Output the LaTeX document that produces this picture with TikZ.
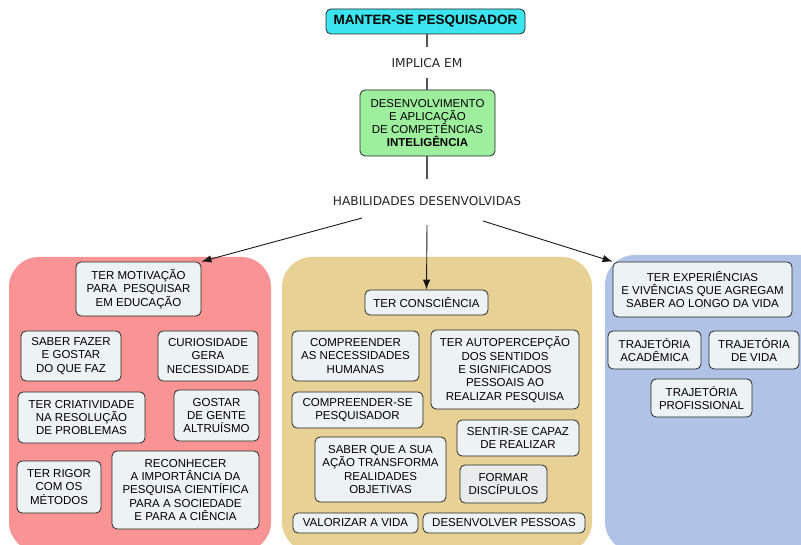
\documentclass[tikz,border=0pt]{standalone}
\usepackage{fontspec}
\setmainfont{Liberation Sans}
\newfontfamily\labelfont{DejaVu Sans}
\usetikzlibrary{arrows.meta}

\definecolor{topcyan}{HTML}{3BE4EE}
\definecolor{compgreen}{HTML}{9DEE9D}
\definecolor{panelpink}{HTML}{FA9494}
\definecolor{paneltan}{HTML}{E7D195}
\definecolor{panelblue}{HTML}{B0C3E6}
\definecolor{itemfill}{HTML}{EDF2F5}
\definecolor{itemgray}{HTML}{E9ECEC}
\definecolor{linkgray}{HTML}{555555}

\tikzset{
  itembox/.style={draw=black!85, line width=0.8pt, fill=itemfill, rounded corners=5pt,
    align=center, inner sep=1pt, font=\fontsize{11.5}{13.3}\selectfont},
  panel/.style={rounded corners=30pt, draw=none},
  plainlabel/.style={inner sep=1pt, font=\labelfont\fontsize{12.2}{14}\selectfont, text=black!85},
  link/.style={draw=linkgray, line width=1.3pt},
  pointer/.style={draw=black!90, line width=0.9pt, -{Latex[length=10pt,width=7.5pt]}}
}

\begin{document}
\begin{tikzpicture}[x=1pt,y=-1pt]
\useasboundingbox (0,0) rectangle (801,545);
\clip (0,0) rectangle (801,545);
\fill[white] (0,0) rectangle (801,545);

% three background panels
\fill[panel, fill=panelpink] (9,257) rectangle (271,552);
\fill[panel, fill=paneltan]  (282,257) rectangle (592,552);
\fill[panel, fill=panelblue] (605,255) rectangle (830,552);

% central chain
\node[itembox, fill=topcyan, minimum width=199pt, minimum height=25pt,
      font=\bfseries\fontsize{13.5}{15}\selectfont] (top) at (425.5,21.5) {MANTER-SE PESQUISADOR};
\node[plainlabel] (impl) at (427,63) {IMPLICA EM};
\node[itembox, fill=compgreen, minimum width=135pt, minimum height=66pt] (comp) at (427.5,123)
  {DESENVOLVIMENTO\\E APLICAÇÃO\\DE COMPETÊNCIAS\\\textbf{INTELIGÊNCIA}};
\node[plainlabel] (habil) at (427,201) {HABILIDADES DESENVOLVIDAS};

% link ends left open around the two labels
\coordinate (implabove) at (427,47);
\coordinate (implbelow) at (427,78);
\coordinate (habilabove) at (427,179);
\draw[link] (top.south -| impl.north) -- (implabove);
\draw[link] (implbelow) -- (comp.north -| impl.south);
\draw[link] (comp.south -| impl.south) -- (habilabove);

% left panel
\node[itembox, minimum width=125pt, minimum height=54pt] (motiv) at (138.5,289)
  {TER MOTIVAÇÃO\\PARA~ PESQUISAR\\EM EDUCAÇÃO};
\node[itembox, minimum width=100pt, minimum height=50pt] (saber) at (71,356)
  {SABER FAZER\\E GOSTAR\\DO QUE FAZ};
\node[itembox, minimum width=100pt, minimum height=50pt] (curio) at (208,356)
  {CURIOSIDADE\\GERA\\NECESSIDADE};
\node[itembox, minimum width=127pt, minimum height=51pt] (criat) at (81.5,417.5)
  {TER CRIATIVIDADE\\NA RESOLUÇÃO\\DE PROBLEMAS};
\node[itembox, minimum width=85pt, minimum height=51pt] (gostar) at (216.5,415.5)
  {GOSTAR\\DE GENTE\\ALTRUÍSMO};
\node[itembox, minimum width=84pt, minimum height=52pt] (rigor) at (59,487)
  {TER RIGOR\\COM OS\\MÉTODOS};
\node[itembox, minimum width=147pt, minimum height=78pt] (recon) at (185.5,490)
  {RECONHECER\\A IMPORTÂNCIA DA\\PESQUISA CIENTÍFICA\\PARA A SOCIEDADE\\E PARA A CIÊNCIA};

% middle panel
\node[itembox, minimum width=123pt, minimum height=25pt] (consc) at (426.5,302.5) {TER CONSCIÊNCIA};
\node[itembox, minimum width=127pt, minimum height=50pt] (compr) at (355.5,356)
  {COMPREENDER\\AS NECESSIDADES\\HUMANAS};
\node[itembox, minimum width=148pt, minimum height=79pt] (autop) at (505,369.5)
  {TER AUTOPERCEPÇÃO\\DOS SENTIDOS\\E SIGNIFICADOS\\PESSOAIS AO\\REALIZAR PESQUISA};
\node[itembox, minimum width=131pt, minimum height=36pt] (comprse) at (357.5,410)
  {COMPREENDER-SE\\PESQUISADOR};
\node[itembox, minimum width=122pt, minimum height=36pt] (sentir) at (518,438)
  {SENTIR-SE CAPAZ\\DE REALIZAR};
\node[itembox, minimum width=131pt, minimum height=65pt] (sabque) at (380.5,469.5)
  {SABER QUE A SUA\\AÇÃO TRANSFORMA\\REALIDADES\\OBJETIVAS};
\node[itembox, fill=itemgray, minimum width=87pt, minimum height=38pt] (formar) at (503.5,484)
  {FORMAR\\DISCÍPULOS};
\node[itembox, minimum width=125pt, minimum height=20pt] (valor) at (355.5,523) {VALORIZAR A VIDA};
\node[itembox, minimum width=162pt, minimum height=20pt] (desenv) at (504,523) {DESENVOLVER PESSOAS};

% right panel
\node[itembox, minimum width=179pt, minimum height=55pt] (exper) at (702.5,289.5)
  {TER EXPERIÊNCIAS\\E VIVÊNCIAS QUE AGREGAM\\SABER AO LONGO DA VIDA};
\node[itembox, minimum width=93pt, minimum height=38pt] (acad) at (654.5,350)
  {TRAJETÓRIA\\ACADÊMICA};
\node[itembox, minimum width=90pt, minimum height=38pt] (vida) at (754,350)
  {TRAJETÓRIA\\DE VIDA};
\node[itembox, minimum width=101pt, minimum height=38pt] (prof) at (701.5,398)
  {TRAJETÓRIA\\PROFISSIONAL};

% arrows from the skills label to each group
\coordinate (hl) at (362,218);
\coordinate (hm) at (427,225);
\coordinate (hr) at (483,221);
\draw[pointer] (hl) -- (motiv.north east);
\draw[pointer] (hm) -- (consc.north);
\draw[pointer] (hr) -- (exper.north west);
\end{tikzpicture}
\end{document}
